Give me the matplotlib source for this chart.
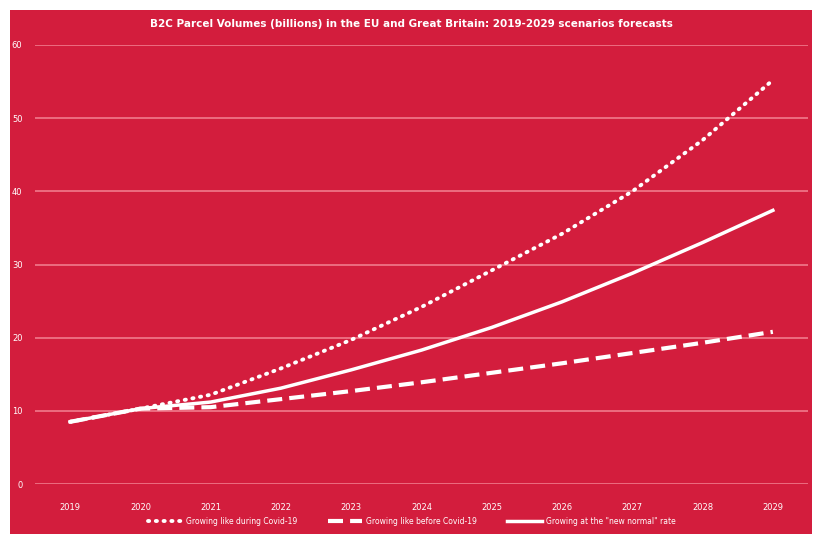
import matplotlib.pyplot as plt
from matplotlib.patches import Rectangle

# B2C parcel volumes (billions), EU + Great Britain
years = ["2019", "2020", "2021", "2022", "2023", "2024", "2025", "2026", "2027", "2028", "2029"]
covid_growth = [8.5, 10.3, 12.2, 15.8, 19.7, 24.2, 29.2, 34.2, 40.0, 47.0, 55.2]
pre_covid_growth = [8.5, 10.3, 10.5, 11.6, 12.7, 13.9, 15.2, 16.5, 17.9, 19.3, 20.8]
new_normal_growth = [8.5, 10.3, 11.2, 13.1, 15.6, 18.3, 21.4, 24.9, 28.8, 33.0, 37.4]
y_ticks = [0, 10, 20, 30, 40, 50, 60]

RED = "#d31d3d"
GRID = "#f07a8c"

fig = plt.figure(figsize=(8.23, 5.34), dpi=100)
fig.patch.set_facecolor("white")
fig.patches.append(Rectangle((10 / 823, 0), 802 / 823, 1 - 10 / 534,
                             transform=fig.transFigure, facecolor=RED,
                             edgecolor="none", zorder=-10))

ax = fig.add_axes([35 / 823, 1 - 484 / 534, 773 / 823, 439 / 534])
ax.set_zorder(5)
ax.set_facecolor("none")
x = range(len(years))

ax.plot(x, covid_growth, color="white", lw=2.8, linestyle=(0, (0.3, 1.7)),
        dash_capstyle="round", label="Growing like during Covid-19")
ax.plot(x, pre_covid_growth, color="white", lw=3.0, linestyle=(0, (3.6, 1.7)),
        label="Growing like before Covid-19")
ax.plot(x, new_normal_growth, color="white", lw=2.5,
        label='Growing at the "new normal" rate')

ax.set_xlim(-0.5, len(years) - 0.5)
ax.set_ylim(0, 60)
ax.set_yticks(y_ticks)
ax.set_xticks(list(x))
ax.set_xticklabels(years)
ax.yaxis.grid(True, color=GRID, lw=1.2)
ax.set_axisbelow(True)
for s in ax.spines.values():
    s.set_visible(False)
ax.tick_params(length=0, colors="white", labelsize=6)
ax.tick_params(axis="y", pad=9)
ax.tick_params(axis="x", pad=14)

fig.text(0.5, 1 - 24 / 534,
         "B2C Parcel Volumes (billions) in the EU and Great Britain: 2019-2029 scenarios forecasts",
         ha="center", va="center", color="white", fontsize=7.5, fontweight="bold")

leg = fig.legend(loc="center", bbox_to_anchor=(0.5, 1 - 521 / 534), ncol=3,
                 frameon=False, fontsize=5.5, labelcolor="white",
                 handlelength=4.5, columnspacing=4, handletextpad=0.5)

fig.savefig("out.png", dpi=100, facecolor=fig.get_facecolor())
